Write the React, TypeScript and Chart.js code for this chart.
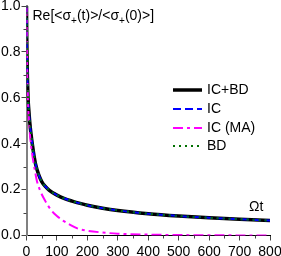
import React, { useEffect, useRef } from "react";
import { Chart, registerables } from "chart.js";

Chart.register(...registerables);

const mainT = [0, 1, 2, 3, 5, 8, 11, 15, 20, 25, 30, 40, 50, 61, 75, 100, 125, 150, 176, 200, 250, 300, 400, 500, 600, 700, 800];
const mainY = [1.0, 0.85, 0.76, 0.69, 0.6, 0.54, 0.49, 0.44, 0.39, 0.345, 0.31, 0.265, 0.235, 0.215, 0.197, 0.176, 0.161, 0.15, 0.14, 0.132, 0.119, 0.109, 0.095, 0.085, 0.077, 0.071, 0.065];
const maT = [0, 1, 2, 3, 5, 8, 12, 16, 22, 28, 34, 45, 61, 80, 100, 120, 145, 169, 200, 242, 300, 400, 500, 600, 800];
const maY = [1.0, 0.84, 0.74, 0.67, 0.58, 0.5, 0.43, 0.38, 0.326, 0.28, 0.239, 0.195, 0.152, 0.112, 0.085, 0.065, 0.045, 0.03, 0.021, 0.014, 0.008, 0.004, 0.002, 0.001, 0.0];
const seriesNames = ["IC+BD", "IC", "IC (MA)", "BD"];
const xMinorTicks = [50, 150, 250, 350, 450, 550, 650, 750];
const yMinorTicks = [0.1, 0.3, 0.5, 0.7, 0.9];

const FONT = '"Liberation Sans", Arial, sans-serif';

const toPts = (ts: number[], ys: number[]) => ts.map((t, i) => ({ x: t, y: ys[i] }));

export default function App() {
  const ref = useRef<HTMLCanvasElement | null>(null);
  useEffect(() => {
    document.body.style.margin = "0";
    const canvas = ref.current!;
    const extras = {
      id: "extras",
      afterDraw(chart: any) {
        const ctx = chart.ctx;
        const xs = chart.scales.x;
        const ys = chart.scales.y;
        const area = chart.chartArea;
        ctx.save();
        ctx.strokeStyle = "#444";
        ctx.lineWidth = 1;
        xMinorTicks.forEach((v) => {
          const px = Math.round(xs.getPixelForValue(v)) + 0.5;
          ctx.beginPath();
          ctx.moveTo(px, area.bottom);
          ctx.lineTo(px, area.bottom + 3);
          ctx.stroke();
        });
        yMinorTicks.forEach((v) => {
          const py = Math.round(ys.getPixelForValue(v)) + 0.5;
          ctx.beginPath();
          ctx.moveTo(area.left, py);
          ctx.lineTo(area.left - 3, py);
          ctx.stroke();
        });
        ctx.fillStyle = "#000";
        ctx.textBaseline = "middle";
        ctx.textAlign = "left";
        let x = area.left + 6;
        const y = 16;
        const parts: [string, boolean][] = [
          ["Re[<σ", false], ["+", true], ["(t)>/<σ", false], ["+", true], ["(0)>]", false],
        ];
        parts.forEach(([s, sub]) => {
          ctx.font = sub ? `10px ${FONT}` : `14px ${FONT}`;
          ctx.fillText(s, x, sub ? y + 5 : y);
          x += ctx.measureText(s).width;
        });
        ctx.font = `14px ${FONT}`;
        ctx.fillText("Ωt", 249, 207);
        const rows = [90, 109, 128, 146];
        chart.data.datasets.forEach((ds: any, i: number) => {
          const ry = rows[i];
          ctx.beginPath();
          ctx.strokeStyle = ds.borderColor;
          ctx.lineWidth = ds.borderWidth;
          ctx.setLineDash(ds.borderDash || []);
          ctx.moveTo(173, ry);
          ctx.lineTo(202, ry);
          ctx.stroke();
          ctx.setLineDash([]);
          ctx.fillStyle = "#000";
          ctx.font = `14px ${FONT}`;
          ctx.fillText(seriesNames[i], 207, ry);
        });
        ctx.restore();
      },
    };
    const main = toPts(mainT, mainY);
    const ma = toPts(maT, maY);
    const chart = new Chart(canvas, {
      type: "line",
      data: {
        datasets: [
          { label: seriesNames[0], data: main, borderColor: "#000000", borderWidth: 3.5, order: 4 },
          { label: seriesNames[1], data: main, borderColor: "#0000ff", borderWidth: 2, borderDash: [8, 4], order: 3 },
          { label: seriesNames[2], data: ma, borderColor: "#ff00ff", borderWidth: 2, borderDash: [10, 4, 3, 4], order: 2 },
          { label: seriesNames[3], data: main, borderColor: "#007000", borderWidth: 2, borderDash: [2, 4], order: 1 },
        ] as any,
      },
      options: {
        animation: false,
        responsive: false,
        devicePixelRatio: 1,
        layout: { padding: { top: 6, right: 11, left: 0, bottom: 0 } },
        elements: {
          point: { radius: 0 },
          line: { tension: 0.4, cubicInterpolationMode: "monotone", fill: false },
        },
        plugins: { legend: { display: false }, tooltip: { enabled: false } },
        scales: {
          x: {
            type: "linear",
            min: 0,
            max: 800,
            afterFit: (s: any) => {
              s.height = 20.5;
              s.paddingLeft = 0;
              s.paddingRight = 0;
            },
            ticks: { stepSize: 100, color: "#000", font: { family: FONT, size: 14 }, padding: 3, maxRotation: 0, autoSkip: false },
            grid: { drawOnChartArea: false, drawTicks: true, tickLength: 5, color: "#444" },
            border: { color: "#000", width: 1 },
          },
          y: {
            type: "linear",
            min: 0,
            max: 1,
            afterFit: (s: any) => {
              s.width = 26.5;
              s.paddingTop = 0;
              s.paddingBottom = 0;
            },
            ticks: {
              stepSize: 0.2,
              color: "#000",
              font: { family: FONT, size: 14 },
              padding: 1,
              callback: (v: any) => Number(v).toFixed(1),
            },
            grid: { drawOnChartArea: false, drawTicks: true, tickLength: 5, color: "#444" },
            border: { color: "#808080", width: 2 },
          },
        },
      },
      plugins: [extras],
    });
    return () => chart.destroy();
  }, []);
  return <canvas ref={ref} width={281} height={256} style={{ display: "block", width: 281, height: 256 }} />;
}
